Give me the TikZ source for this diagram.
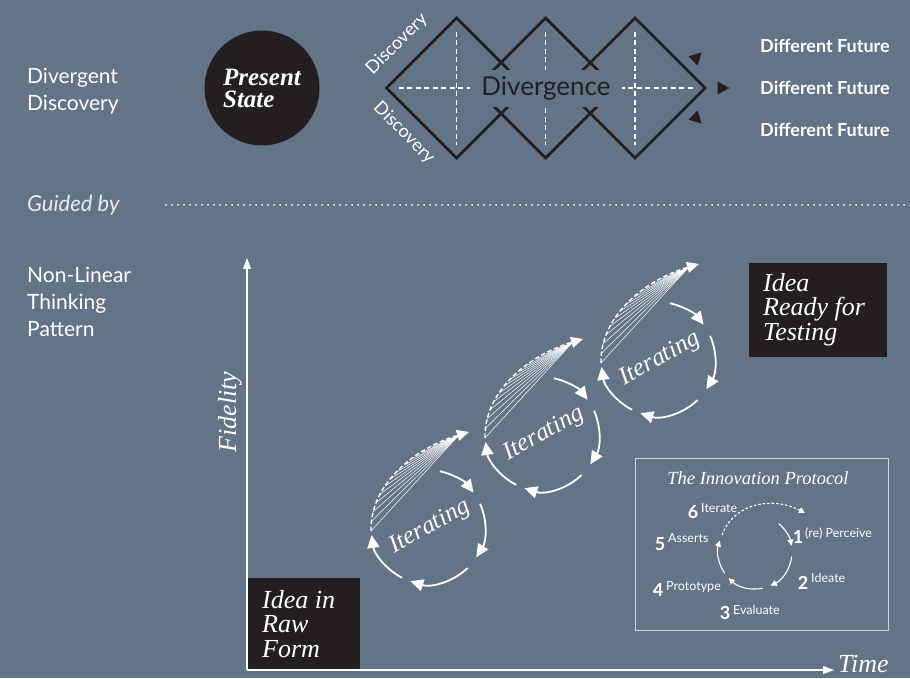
\documentclass[tikz,border=0pt]{standalone}
\usepackage{xcolor}
\usepackage{fontspec}
\setsansfont{Lato}
\newfontfamily\bodoni{Liberation Serif}
\usepackage{tikz}
\usetikzlibrary{shapes,arrows,arrows.meta,positioning}

\definecolor{slate}{RGB}{98,116,133}
\definecolor{ink}{RGB}{35,31,32}
\definecolor{frame}{RGB}{205,212,219}

\begin{document}
\begin{tikzpicture}[x=1pt,y=1pt,
  side/.style={text=white,font=\sffamily\fontsize{21}{27}\selectfont,align=left,anchor=north west,inner sep=0pt},
  future/.style={text=white,font=\sffamily\bfseries\fontsize{18}{20}\selectfont,anchor=west,inner sep=0pt},
  serif/.style={text=white,font=\bodoni\itshape\fontsize{26}{24.5}\selectfont,align=left,inner sep=0pt},
  block/.style={fill=ink,inner sep=0pt,anchor=north west},
  cycarrow/.style={white,line width=1.8pt,-{Triangle[length=13pt,width=12pt]}},
  fan/.style={white,line width=0.5pt},
  small/.style={white,line width=1.1pt,-{Triangle[length=6pt,width=6pt]}},
  num/.style={text=white,font=\sffamily\bfseries\fontsize{18}{18}\selectfont,inner sep=0pt},
  plab/.style={text=white,font=\sffamily\fontsize{12.5}{12}\selectfont,inner sep=0pt,anchor=west}]
\fill[slate] (0,0) rectangle (910,678);
\useasboundingbox (0,0) rectangle (910,678);

% left column
\node[side] (divlbl) at (27,610) {Divergent\\Discovery};
\node[side] (nonlin) at (27,411) {Non-Linear\\Thinking\\Pattern};
\node[text=white!85!slate,font=\sffamily\itshape\fontsize{22}{22}\selectfont,anchor=west,inner sep=0pt] (guided) at (27,473) {Guided by};
\coordinate (dotstart) at (166,473);
\coordinate (rightedge) at (910,473);
\draw[white,line width=2pt,line cap=round,dash pattern=on 0pt off 6pt] (dotstart) -- (rightedge);

% divergent discovery
\node[circle,fill=ink,minimum size=115pt,inner sep=0pt,text=white,align=left,
  font=\bodoni\bfseries\itshape\fontsize{25}{22}\selectfont] (present) at (262,590) {Present\\State};
\foreach \cx [count=\i] in {456.7,545.7,635}{
  \coordinate (d\i) at (\cx,590);
  \draw[white,line width=1.2pt,dash pattern=on 5pt off 3.5pt] (\cx,646) -- (\cx,533);
  \draw[ink,line width=2.8pt] ([xshift=-70pt]d\i) -- ([yshift=70pt]d\i) -- ([xshift=70pt]d\i) -- ([yshift=-70pt]d\i) -- cycle;
}
\draw[white,line width=1.2pt,dash pattern=on 5pt off 3.5pt] ([xshift=-58pt]d1) -- ([xshift=58pt]d3);
\node[fill=slate,text=ink,font=\sffamily\fontsize{26}{26}\selectfont,minimum width=152pt,minimum height=37pt,inner sep=0pt] (div) at (546,589.5) {Divergence};
\node[text=white,font=\sffamily\fontsize{18}{18}\selectfont,rotate=45] (discup) at (397,634) {Discovery};
\node[text=white,font=\sffamily\fontsize{18}{18}\selectfont,rotate=-45] (disclow) at (404,545) {Discovery};
\foreach \ang/\px/\py in {45/697/621,0/723/590,-45/697/559}
  \fill[ink,shift={(\px,\py)},rotate=\ang] (6.5,0) -- (-5.5,6.5) -- (-5.5,-6.5) -- cycle;
\node[future] (fut1) at (760,632) {Different Future};
\node[future] (fut2) at (760,590) {Different Future};
\node[future] (fut3) at (760,548) {Different Future};

% idea boxes and axes
\node[block,minimum width=112pt,minimum height=92pt] (raw) at (248,100) {};
\node[serif,anchor=north west] (rawtxt) at ([xshift=14pt,yshift=-12pt]raw.north west) {Idea in\\Raw\\Form};
\node[block,minimum width=138pt,minimum height=94pt] (ready) at (749,415) {};
\node[serif,anchor=north west] (readytxt) at ([xshift=14pt,yshift=-10pt]ready.north west) {Idea\\Ready for\\Testing};
\coordinate (o) at (247,8);
\coordinate (ytop) at (247,420);
\coordinate (xend) at (834,8);
\draw[white,line width=1.2pt,-{Triangle[length=11pt,width=8pt]}] (o) -- (ytop);
\draw[white,line width=1.2pt,-{Triangle[length=11pt,width=8pt]}] (o) -- (xend);
\node[serif,rotate=90] (fid) at (230,266) {Fidelity};
\node[serif,anchor=base west] (time) at (838,6) {Time};

% iterating loops
\foreach \cx/\cy/\n in {428/151/1,542/244/2,658/319/3}{
  \begin{scope}[shift={(\cx,\cy)}]
    \node[serif,font=\bodoni\itshape\fontsize{25}{25}\selectfont,rotate=29] (iter\n) at (2,0) {Iterating};
    \draw[cycarrow] (78:57) arc[start angle=78,end angle=37,radius=57];
    \draw[cycarrow] (24:57) arc[start angle=24,end angle=-32,radius=57];
    \draw[cycarrow] (-46:57) arc[start angle=-46,end angle=-108,radius=57];
    \draw[cycarrow] (-117:57) arc[start angle=-117,end angle=-172,radius=57];
    \coordinate (s\n) at (-57,-4);
    \coordinate (tip\n) at (41,95);
    \coordinate (apex\n) at (30,91);
    \draw[white,line width=1.4pt,dash pattern=on 4.5pt off 2.5pt,-{Triangle[length=12pt,width=11pt]}]
      (s\n) .. controls (-58,45) and (-10,80) .. (tip\n);
    \foreach \k in {0,...,12}{
      \pgfmathsetmacro\tpos{\k*0.068}
      \path (s\n) .. controls (-58,45) and (-10,80) .. (tip\n) coordinate[pos=\tpos] (h\k);
      \draw[fan] (apex\n) -- (h\k);
    }
  \end{scope}
}

% innovation protocol
\node[draw=frame,line width=1pt,minimum width=253pt,minimum height=172pt,inner sep=0pt,anchor=south west] (proto) at (635,47) {};
\node[text=white,font=\bodoni\itshape\fontsize{18.5}{18}\selectfont,inner sep=0pt] (ptitle) at (758,200) {The Innovation Protocol};
\coordinate (pc) at (755,126);
\begin{scope}[shift={(pc)}]
  \draw[small] (50:37) arc[start angle=50,end angle=10,radius=37];
  \draw[small] (-7:37) arc[start angle=-7,end angle=-65,radius=37];
  \draw[small] (-78:37) arc[start angle=-78,end angle=-135,radius=37];
  \draw[small] (-145:37) arc[start angle=-145,end angle=-198,radius=37];
  \draw[small,dash pattern=on 2.5pt off 2pt] (-33,17) .. controls (-20,51) and (20,55) .. (50,39);
\end{scope}
\node[num] (n6) at (693,166) {6};
\node[plab] (l6) at (701,170.3) {Iterate};
\node[num] (n5) at (660,134) {5};
\node[plab] (l5) at (668,140) {Asserts};
\node[num] (n1) at (798,141) {1};
\node[plab] (l1) at (805,144) {(re) Perceive};
\node[num] (n2) at (803,95) {2};
\node[plab] (l2) at (811,100) {Ideate};
\node[num] (n4) at (658,88) {4};
\node[plab] (l4) at (666,91.3) {Prototype};
\node[num] (n3) at (725,65) {3};
\node[plab] (l3) at (733,68) {Evaluate};
\end{tikzpicture}
\end{document}
